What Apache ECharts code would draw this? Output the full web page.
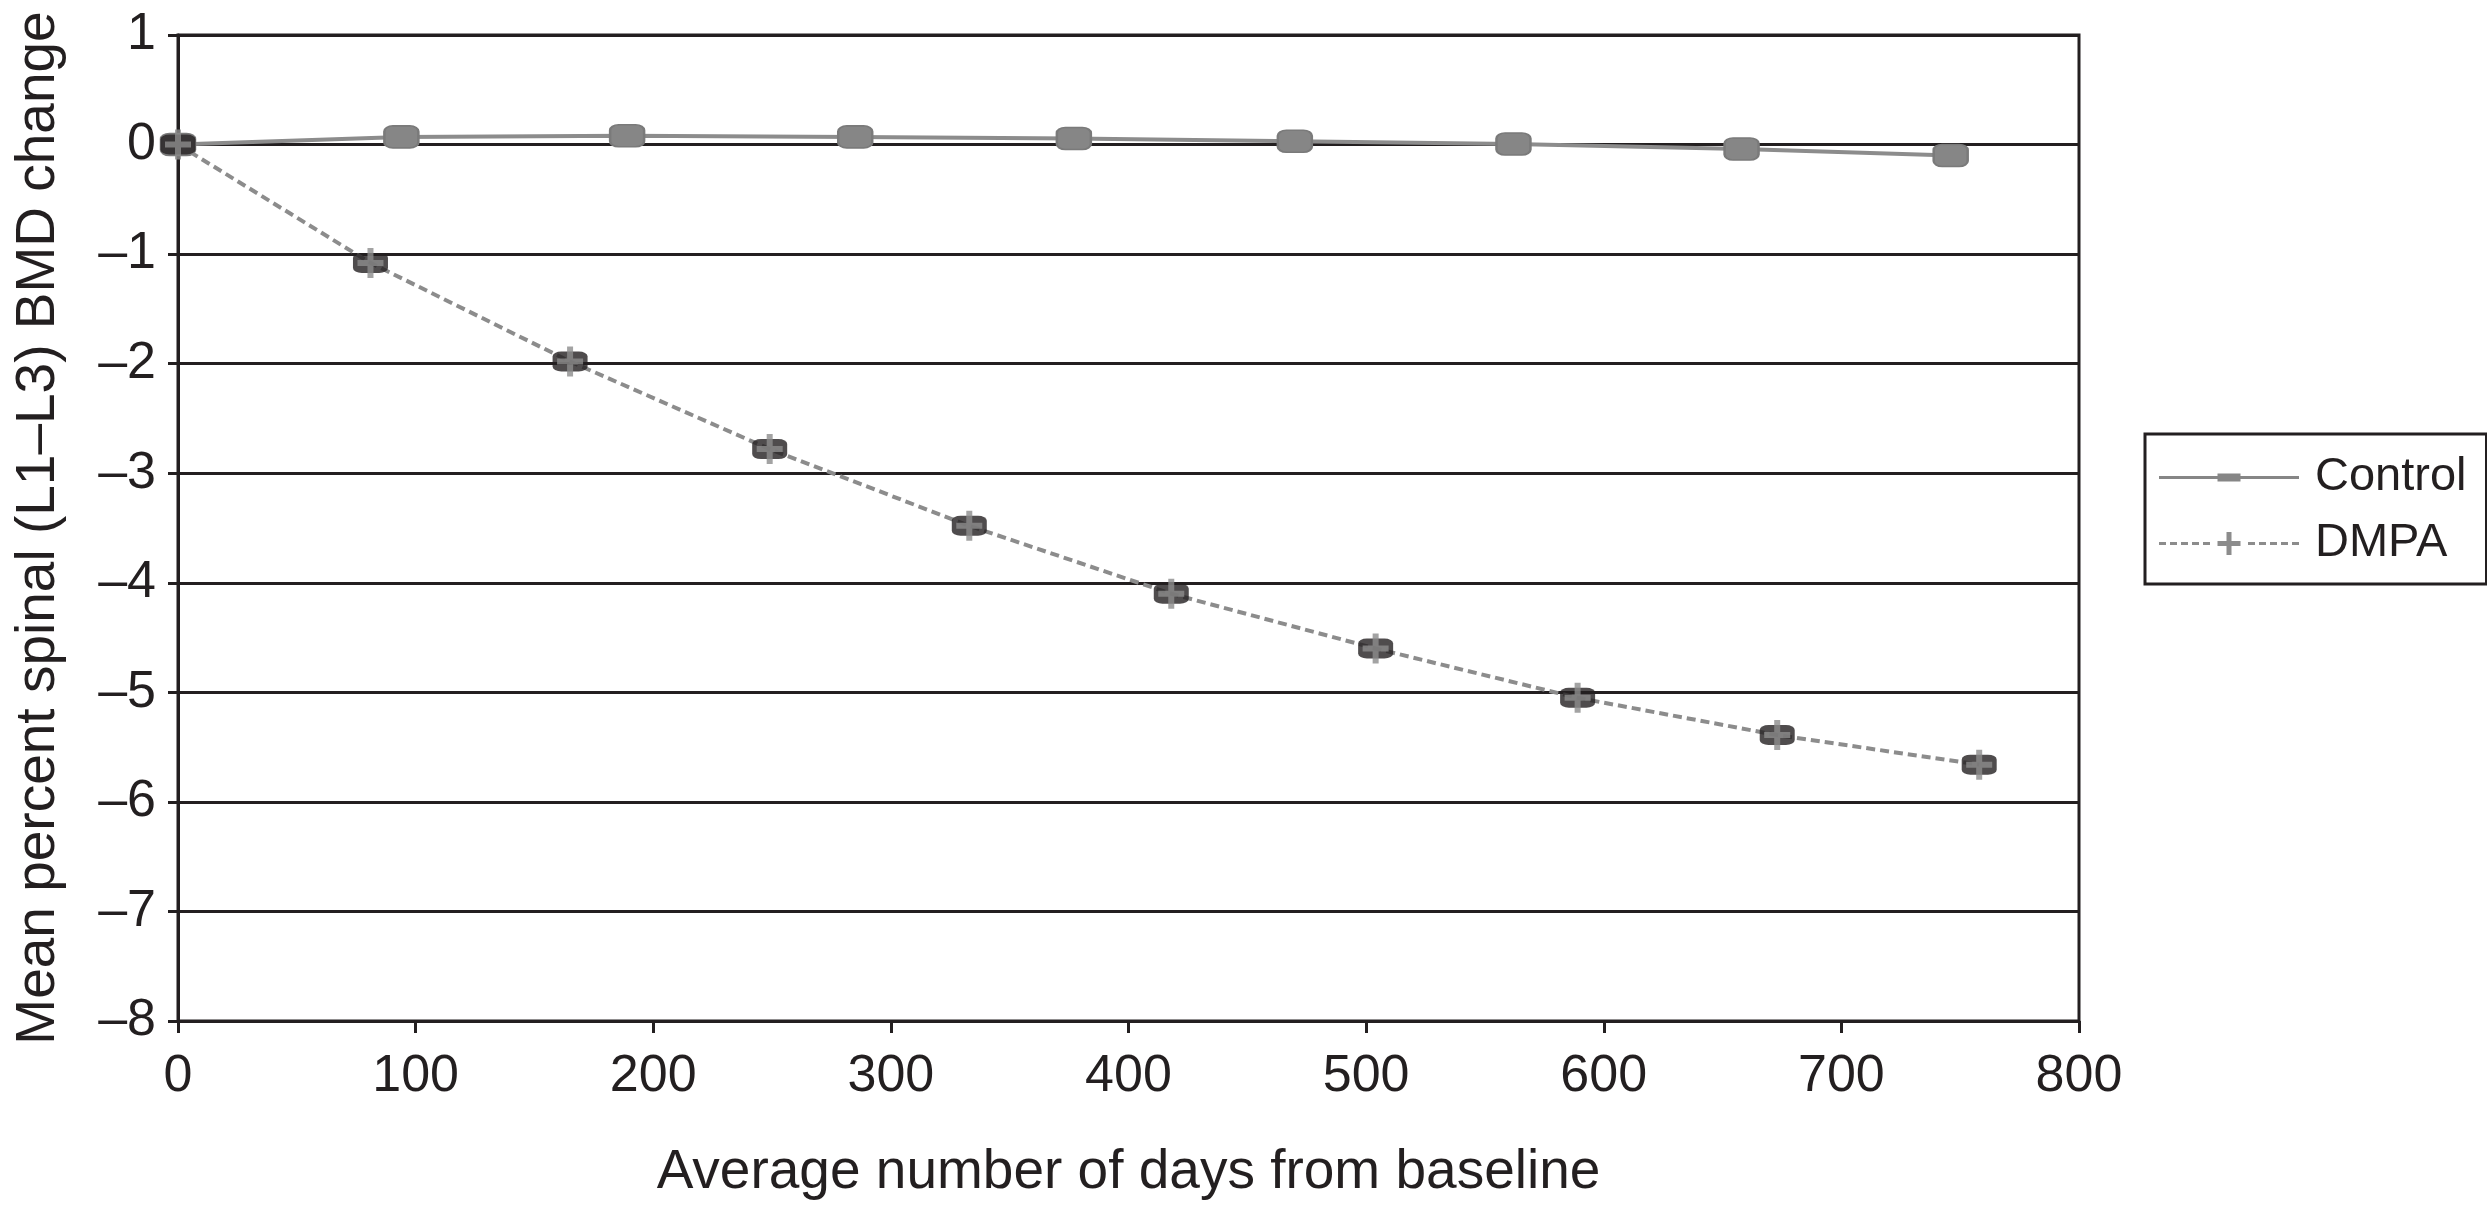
<!DOCTYPE html>
<html>
<head>
<meta charset="utf-8">
<script src="https://cdn.jsdelivr.net/npm/echarts@6/dist/echarts.min.js"></script>
<style>
html,body{margin:0;padding:0;background:#fff;}
#chart{width:2487px;height:1206px;}
</style>
</head>
<body>
<div id="chart"></div>
<script>
// ---- data ----
const controlDays   = [0, 94, 189, 285, 377, 470, 562, 658, 746];
const controlValues = [0, 0.07, 0.08, 0.07, 0.055, 0.03, 0.005, -0.04, -0.1];
const dmpaDays      = [0, 81, 165, 249, 333, 418, 504, 589, 673, 758];
const dmpaValues    = [0, -1.08, -1.98, -2.78, -3.48, -4.10, -4.60, -5.05, -5.39, -5.66];
const seriesNames   = ['Control', 'DMPA'];
const xTitle = 'Average number of days from baseline';
const yTitle = 'Mean percent spinal (L1\u2013L3) BMD change';

const zip = (xs, ys) => xs.map((x, i) => [x, ys[i]]);
const INK = '#231f20';
const GRAY = '#8c8c8c';
const FONT = '"Liberation Sans", Arial, sans-serif';

const plusPath = 'path://M10,0H16V12H26V18H16V30H10V18H0V12H10Z';

// legend icons (line + marker), drawn as filled paths 140px wide
function dmpaIcon() {
  let d = '';
  const dashes = [0, 11, 22, 33, 44, 89, 100, 111, 122, 133];
  dashes.forEach(x => { d += 'M' + x + ',10.5H' + (x + 7) + 'V13.5H' + x + 'Z'; });
  d += 'M67.5,0.5H72.5V9.5H81.5V14.5H72.5V23.5H67.5V14.5H58.5V9.5H67.5Z';
  return 'path://' + d;
}
const controlIcon = 'path://M0,3.5H58.5V1H81.5V3.5H140V6.5H81.5V9H58.5V6.5H0Z';

const chart = echarts.init(document.getElementById('chart'), null, {renderer: 'canvas'});
chart.setOption({
  animation: false,
  backgroundColor: '#fff',
  textStyle: {fontFamily: FONT, color: INK},
  grid: {
    left: 178, right: 408, top: 35, bottom: 185,
    show: true, borderColor: INK, borderWidth: 3, backgroundColor: 'transparent'
  },
  legend: {
    orient: 'vertical',
    left: 2145, top: 434,
    data: [
      {name: seriesNames[0], icon: controlIcon},
      {name: seriesNames[1], icon: dmpaIcon()}
    ],
    itemWidth: 140, itemHeight: 24, itemGap: 19,
    symbolKeepAspect: true,
    padding: [20, 20, 17, 14],
    borderColor: INK, borderWidth: 3,
    backgroundColor: '#fff',
    itemStyle: {borderWidth: 0},
    textStyle: {fontFamily: FONT, fontSize: 47, color: INK, padding: [0, 0, 0, 11]},
    selectedMode: false
  },
  xAxis: {
    type: 'value', min: 0, max: 800, interval: 100,
    name: xTitle, nameLocation: 'middle', nameGap: 124,
    nameTextStyle: {fontFamily: FONT, fontSize: 55, color: INK},
    axisLine: {show: true, onZero: false, lineStyle: {color: INK, width: 3}},
    axisTick: {show: true, inside: false, length: 12, lineStyle: {color: INK, width: 3}},
    axisLabel: {fontFamily: FONT, fontSize: 52, color: INK, margin: 30},
    splitLine: {show: false}
  },
  yAxis: {
    type: 'value', min: -8, max: 1, interval: 1,
    name: yTitle, nameLocation: 'middle', nameGap: 112,
    nameTextStyle: {fontFamily: FONT, fontSize: 55, color: INK},
    axisLine: {show: true, lineStyle: {color: INK, width: 3}},
    axisTick: {show: true, inside: false, length: 10, lineStyle: {color: INK, width: 3}},
    axisLabel: {
      fontFamily: FONT, fontSize: 52, color: INK, margin: 22,
      formatter: v => (v < 0 ? '\u2013' + Math.abs(v) : String(v))
    },
    splitLine: {show: true, lineStyle: {color: INK, width: 3}}
  },
  series: [
    {
      name: seriesNames[0], type: 'line', z: 2,
      data: zip(controlDays, controlValues),
      symbol: 'roundRect', symbolSize: [34, 22], showAllSymbol: true,
      itemStyle: {color: '#868686', borderColor: '#7a7a7a', borderWidth: 2},
      lineStyle: {color: GRAY, width: 4},
      emphasis: {disabled: true}
    },
    {
      name: seriesNames[1], type: 'line', z: 3,
      data: zip(dmpaDays, dmpaValues),
      symbol: 'none',
      itemStyle: {color: GRAY},
      lineStyle: {color: GRAY, width: 4, type: [9, 5]},
      emphasis: {disabled: true}
    },
    {
      name: 'DMPA box', type: 'scatter', z: 4,
      data: zip(dmpaDays, dmpaValues),
      symbol: 'roundRect', symbolSize: [35, 20],
      itemStyle: {color: INK},
      emphasis: {disabled: true}
    },
    {
      name: 'DMPA plus', type: 'scatter', z: 5,
      data: zip(dmpaDays, dmpaValues),
      symbol: plusPath, symbolSize: [26, 30],
      itemStyle: {color: GRAY},
      emphasis: {disabled: true}
    }
  ]
});
</script>
</body>
</html>
